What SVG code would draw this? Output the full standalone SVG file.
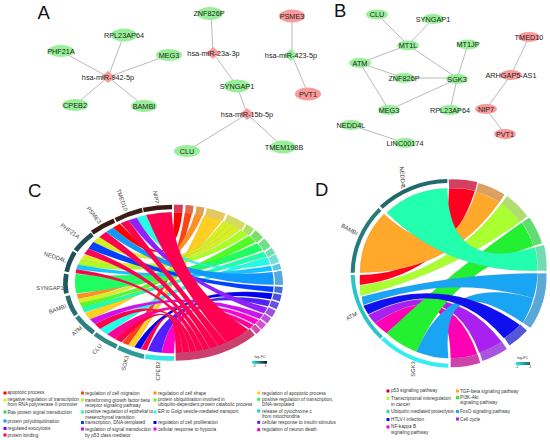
<svg xmlns="http://www.w3.org/2000/svg" width="550" height="440" viewBox="0 0 550 440">
<style>
text{font-family:"Liberation Sans",Arial,sans-serif;dominant-baseline:central;opacity:.99}
.p{font-size:18.5px;fill:#111;dominant-baseline:auto}
.n{font-size:7.3px;fill:#222;text-anchor:middle}
.g{fill:#97f097}.r{fill:#fb9a9a}
.e{stroke:#a8a8a8;stroke-width:.8;fill:none}
.lb{font-size:5.8px;fill:#444;text-anchor:middle}
.l{font-size:4.7px;fill:#333}
.ld{font-size:4.7px;fill:#333}
.t{font-size:3.6px;fill:#333;text-anchor:middle}
.rib path{stroke:#888;stroke-opacity:.55;stroke-width:.8}
.ring path{fill:none;stroke-width:14}
.term path{fill:none;stroke-width:24}
.termd path{fill:none;stroke-width:27}
.ringd path{fill:none;stroke-width:12}
</style>
<defs>
<linearGradient id="gc"><stop offset="0" stop-color="#22eeee"/><stop offset="1" stop-color="#111"/></linearGradient>
<linearGradient id="gd"><stop offset="0" stop-color="#22eeee"/><stop offset="1" stop-color="#1f6a6a"/></linearGradient>
</defs>
<text class="p" x="37.5" y="18.5">A</text>
<text class="p" x="334" y="17">B</text>
<text class="p" x="28" y="196.5">C</text>
<text class="p" x="315" y="196">D</text>

<g id="connectors" class="e">
<path d="M124 35L108 77M61 51L108 77M169 55L108 77M75 105L108 77M144 106L108 77"/>
<path d="M211 13L213 53L237 86L247 114L187 151M247 114L283 147"/>
<path d="M292 16V55L308 94"/>
<path d="M377 14L408 45L433 19M408 45L360 63L404 78H457L408 45M468 44L457 79L450 110M360 63L389 110L457 79"/>
<path d="M529 37L511 75L486 109L505 134M351 125L405 143"/>
</g>

<g id="a-miR942"><path class="r" d="M108 71l7 6-7 6-7-6z"/><text class="n" x="108" y="77">hsa-miR-942-5p</text></g>
<g id="a-RPL23AP64"><ellipse class="g" cx="124" cy="35" rx="13" ry="6.5"/><text class="n" x="124" y="35">RPL23AP64</text></g>
<g id="a-PHF21A"><ellipse class="g" cx="61" cy="51" rx="13" ry="6"/><text class="n" x="61" y="51">PHF21A</text></g>
<g id="a-MEG3"><ellipse class="g" cx="169" cy="55" rx="13" ry="6"/><text class="n" x="169" y="55">MEG3</text></g>
<g id="a-CPEB2"><ellipse class="g" cx="75" cy="105" rx="13" ry="6"/><text class="n" x="75" y="105">CPEB2</text></g>
<g id="a-BAMBI"><ellipse class="g" cx="144" cy="106" rx="13" ry="6"/><text class="n" x="144" y="106">BAMBI</text></g>
<g id="a-ZNF826P"><ellipse class="g" cx="210" cy="13.5" rx="13" ry="6.5"/><text class="n" x="209" y="13.5">ZNF826P</text></g>
<g id="a-miR23a"><path class="r" d="M213 47l7 6-7 6-7-6z"/><text class="n" x="213.5" y="53">hsa-miR-23a-3p</text></g>
<g id="a-SYNGAP1"><ellipse class="g" cx="237" cy="86" rx="13" ry="6.5"/><text class="n" x="237" y="86">SYNGAP1</text></g>
<g id="a-miR15b"><path class="r" d="M247 108l7 6-7 6-7-6z"/><text class="n" x="247" y="114">hsa-miR-15b-5p</text></g>
<g id="a-CLU"><ellipse class="g" cx="187" cy="151" rx="13" ry="6"/><text class="n" x="187" y="151">CLU</text></g>
<g id="a-TMEM198B"><ellipse class="g" cx="283" cy="147" rx="13" ry="6.5"/><text class="n" x="284" y="147">TMEM198B</text></g>
<g id="a-PSME3"><ellipse class="r" cx="292" cy="16" rx="13" ry="6.5"/><text class="n" x="292" y="16">PSME3</text></g>
<g id="a-miR423"><path class="g" d="M291 49l7 6-7 6-7-6z"/><text class="n" x="291" y="55">hsa-miR-423-5p</text></g>
<g id="a-PVT1"><ellipse class="r" cx="308" cy="94" rx="13" ry="6.5"/><text class="n" x="308" y="94">PVT1</text></g>

<g id="b-CLU"><ellipse class="g" cx="377" cy="14.5" rx="11" ry="5"/><text class="n" x="377" y="14.5">CLU</text></g>
<g id="b-SYNGAP1"><ellipse class="g" cx="433" cy="19" rx="11" ry="5"/><text class="n" x="433" y="19">SYNGAP1</text></g>
<g id="b-MT1L"><ellipse class="g" cx="408" cy="45.5" rx="11" ry="5"/><text class="n" x="408" y="45.5">MT1L</text></g>
<g id="b-MT1JP"><ellipse class="g" cx="468" cy="44.5" rx="11" ry="5"/><text class="n" x="468" y="44.5">MT1JP</text></g>
<g id="b-TMED10"><ellipse class="r" cx="529" cy="37" rx="11" ry="5"/><text class="n" x="529" y="37">TMED10</text></g>
<g id="b-ATM"><ellipse class="g" cx="360" cy="63" rx="11" ry="5"/><text class="n" x="360" y="63">ATM</text></g>
<g id="b-ZNF826P"><ellipse class="g" cx="404" cy="78" rx="11" ry="5"/><text class="n" x="404" y="78">ZNF826P</text></g>
<g id="b-SGK3"><ellipse class="g" cx="457" cy="79" rx="11" ry="5"/><text class="n" x="457" y="79">SGK3</text></g>
<g id="b-ARHGAP5-AS1"><ellipse class="r" cx="511" cy="75" rx="11" ry="5"/><text class="n" x="511" y="75">ARHGAP5-AS1</text></g>
<g id="b-MEG3"><ellipse class="g" cx="389" cy="110" rx="11" ry="5"/><text class="n" x="389" y="110">MEG3</text></g>
<g id="b-RPL23AP64"><ellipse class="g" cx="450" cy="110" rx="11" ry="5"/><text class="n" x="450" y="110">RPL23AP64</text></g>
<g id="b-NIP7"><ellipse class="r" cx="486" cy="109" rx="11" ry="5"/><text class="n" x="486" y="109">NIP7</text></g>
<g id="b-PVT1"><ellipse class="r" cx="505" cy="134" rx="11" ry="5"/><text class="n" x="505" y="134">PVT1</text></g>
<g id="b-NEDD4L"><ellipse class="g" cx="351" cy="125" rx="11" ry="5"/><text class="n" x="351" y="125">NEDD4L</text></g>
<g id="b-LINC00174"><ellipse class="g" cx="405" cy="143" rx="11" ry="5"/><text class="n" x="405" y="143">LINC00174</text></g>

<g id="chord-c" transform="translate(0 170) scale(.3333)">
<g class="rib">
<path fill="#ff0000" d="M339 173A298 212 0 0 1 360 161Q525 338 522 127A298 212 0 0 1 547 127.6Q525 338 339 173Z"/>
<path fill="#ff4010" d="M385 525A298 212 0 0 1 367 518Q525 338 554.5 128A298 212 0 0 1 576 130Q525 338 385 525Z"/>
<path fill="#ff9020" d="M234 386A298 212 0 0 1 231 372Q525 338 585 131.5A298 212 0 0 1 607 135Q525 338 234 386Z"/>
<path fill="#ffd020" d="M402 531A298 212 0 0 1 385 526Q525 338 613 136.6A298 212 0 0 1 640 142Q525 338 402 531Z"/>
<path fill="#ffd020" d="M270 448A298 212 0 0 1 255 429Q525 338 640 142A298 212 0 0 1 665 152Q525 338 270 448Z"/>
<path fill="#d8f020" d="M240 400A298 212 0 0 1 234 386Q525 338 670 154A298 212 0 0 1 688 160.5Q525 338 240 400Z"/>
<path fill="#d8f020" d="M280 216A298 212 0 0 1 298 201Q525 338 688 160.5A298 212 0 0 1 704 168Q525 338 280 216Z"/>
<path fill="#d8f020" d="M243 270A298 212 0 0 1 252 255Q525 338 704 168A298 212 0 0 1 720 179Q525 338 243 270Z"/>
<path fill="#a8ff20" d="M234 284A298 212 0 0 1 243 270Q525 338 723.6 181A298 212 0 0 1 743.5 194.5Q525 338 234 284Z"/>
<path fill="#50ff20" d="M246 412A298 212 0 0 1 240 400Q525 338 747 197.4A298 212 0 0 1 767 216Q525 338 246 412Z"/>
<path fill="#20ff60" d="M229 370A298 212 0 0 1 227 312Q525 338 771 220A298 212 0 0 1 788 241Q525 338 229 370Z"/>
<path fill="#20ffa8" d="M254 427A298 212 0 0 1 246 412Q525 338 791 245A298 212 0 0 1 800.5 260Q525 338 254 427Z"/>
<path fill="#20ffe8" d="M322 493A298 212 0 0 1 300 478Q525 338 801.5 262A298 212 0 0 1 807 273Q525 338 322 493Z"/>
<path fill="#20ffe8" d="M410 143A298 212 0 0 1 437 136Q525 338 807 273A298 212 0 0 1 811 283Q525 338 410 143Z"/>
<path fill="#10c8ff" d="M229 298A298 212 0 0 1 234 284Q525 338 812.5 287A298 212 0 0 1 816.6 302Q525 338 229 298Z"/>
<path fill="#1098ff" d="M318 186A298 212 0 0 1 339 173Q525 338 817.6 306A298 212 0 0 1 821 344.6Q525 338 318 186Z"/>
<path fill="#0040ff" d="M265 236A298 212 0 0 1 280 216Q525 338 821 349.4A298 212 0 0 1 818.5 366.5Q525 338 265 236Z"/>
<path fill="#0000ee" d="M422 537A298 212 0 0 1 403 532Q525 338 817.6 370A298 212 0 0 1 813 388Q525 338 422 537Z"/>
<path fill="#5020ff" d="M485 548A298 212 0 0 1 443 542Q525 338 811 392A298 212 0 0 1 804 409Q525 338 485 548Z"/>
<path fill="#9020ff" d="M385 151A298 212 0 0 1 410 143Q525 338 802 413A298 212 0 0 1 792 430Q525 338 385 151Z"/>
<path fill="#d010f0" d="M285 462A298 212 0 0 1 270 448Q525 338 789.7 433A298 212 0 0 1 778.6 447Q525 338 285 462Z"/>
<path fill="#ff00cc" d="M522 550A298 212 0 0 1 485 548Q525 338 776 450A298 212 0 0 1 763.5 463Q525 338 522 550Z"/>
<path fill="#ff0099" d="M345 507A298 212 0 0 1 322 493Q525 338 761 465A298 212 0 0 1 749 476Q525 338 345 507Z"/>
<path fill="#ff0050" d="M438 135A298 212 0 0 1 515 126Q525 338 745 479A298 212 0 0 1 680 519Q525 338 438 135Z"/>
<path fill="#ff0050" d="M362 160A298 212 0 0 1 385 151Q525 338 680 519A298 212 0 0 1 655 529Q525 338 362 160Z"/>
<path fill="#ff0050" d="M298 201A298 212 0 0 1 318 186Q525 338 655 529A298 212 0 0 1 630 537Q525 338 298 201Z"/>
<path fill="#ff0050" d="M253 252A298 212 0 0 1 265 236Q525 338 630 537A298 212 0 0 1 610 541Q525 338 253 252Z"/>
<path fill="#ff0050" d="M227 310A298 212 0 0 1 229 298Q525 338 610 541A298 212 0 0 1 590 545Q525 338 227 310Z"/>
<path fill="#ff0050" d="M300 477A298 212 0 0 1 285 462Q525 338 590 545A298 212 0 0 1 570 547Q525 338 300 477Z"/>
<path fill="#ff0050" d="M365 517A298 212 0 0 1 345 507Q525 338 570 547A298 212 0 0 1 548 549Q525 338 365 517Z"/>
<path fill="#ff0050" d="M440 541A298 212 0 0 1 423 538Q525 338 548 549A298 212 0 0 1 527 549Q525 338 440 541Z"/>
</g>
<g class="term">
<path stroke="#d8385a" d="M522 116A312 222 0 0 1 548 116.6"/>
<path stroke="#e06a50" d="M556 117A312 222 0 0 1 579 119"/>
<path stroke="#e0a050" d="M588 120.6A312 222 0 0 1 611 124.6"/>
<path stroke="#e2c860" d="M618 126A312 222 0 0 1 672 142"/>
<path stroke="#d4dc60" d="M678 144.4A312 222 0 0 1 730 170.6"/>
<path stroke="#a8e060" d="M734 173A312 222 0 0 1 755 187"/>
<path stroke="#78e068" d="M759 190A312 222 0 0 1 780 210"/>
<path stroke="#70e088" d="M784 214A312 222 0 0 1 802 236"/>
<path stroke="#70e0b0" d="M805 240A312 222 0 0 1 815 256"/>
<path stroke="#70e0d8" d="M816 258A312 222 0 0 1 826 280"/>
<path stroke="#58c8e0" d="M827.6 284A312 222 0 0 1 832 300"/>
<path stroke="#58a8e0" d="M833 304A312 222 0 0 1 837 345"/>
<path stroke="#4070d8" d="M836.5 350A312 222 0 0 1 834 368"/>
<path stroke="#5050e0" d="M833 372A312 222 0 0 1 828 391"/>
<path stroke="#6a50e0" d="M826 395A312 222 0 0 1 818.6 413"/>
<path stroke="#9a50e0" d="M816.6 417A312 222 0 0 1 806 435"/>
<path stroke="#b850e0" d="M803.6 438A312 222 0 0 1 792 453"/>
<path stroke="#d850d0" d="M789 456A312 222 0 0 1 776 470"/>
<path stroke="#d84ab0" d="M773.6 472A312 222 0 0 1 761 483"/>
<path stroke="#cc4070" d="M757 486A312 222 0 0 1 527 560"/>
</g>
<g class="ring">
<path stroke="#33e8e8" d="M522 565A323 225 0 0 1 436 560"/>
<path stroke="#2f9a9a" d="M432 560A323 225 0 0 1 355 533"/>
<path stroke="#2f8a8a" d="M350 530A323 225 0 0 1 285 492"/>
<path stroke="#2d8080" d="M281 488A323 225 0 0 1 231 440"/>
<path stroke="#2a6c70" d="M228 435A323 225 0 0 1 203 377"/>
<path stroke="#1f5a60" d="M199 370A323 225 0 0 1 199 312"/>
<path stroke="#1d5258" d="M200 305A323 225 0 0 1 224 247"/>
<path stroke="#1f4f55" d="M227 242A323 225 0 0 1 277 193"/>
<path stroke="#3b1a12" d="M277 188A323 225 0 0 1 343 152"/>
<path stroke="#3b2018" d="M347 150A323 225 0 0 1 427 120"/>
<path stroke="#3a1a12" d="M430 120A323 225 0 0 1 516 111"/>
</g>
</g>
<g id="c-labels">
<text class="lb" transform="translate(156 197) rotate(82)">NIP7</text>
<text class="lb" transform="translate(122 200) rotate(70)">TMED10</text>
<text class="lb" transform="translate(94 215) rotate(52)">PSME3</text>
<text class="lb" transform="translate(70 231) rotate(35)">PHF21A</text>
<text class="lb" transform="translate(55 257) rotate(18)">NEDD4L</text>
<text class="lb" transform="translate(50 288)">SYNGAP1</text>
<text class="lb" transform="translate(57.5 309) rotate(-20)">BAMBI</text>
<text class="lb" transform="translate(77 331) rotate(-40)">ATM</text>
<text class="lb" transform="translate(97 349) rotate(-50)">CLU</text>
<text class="lb" transform="translate(125 363) rotate(-75)">SGK3</text>
<text class="lb" transform="translate(157.5 371) rotate(-90)">CPEB2</text>
</g>
<g id="c-scale">
<text class="t" x="260" y="357">log₂FC</text>
<rect x="252" y="361" width="15" height="2.7" fill="url(#gc)"/>
<text class="t" x="254" y="366">-3</text><text class="t" x="265.5" y="366">1</text>
</g>
<g id="c-legend">
<rect x="3.5" y="391.5" width="3" height="3" fill="#ff0000"/><text class="l" x="7.5" y="392.7">apoptotic process</text>
<rect x="3.5" y="398.5" width="3" height="3" fill="#d8f020"/><text class="l" x="7.5" y="399.7">negative regulation of transcription</text><text class="l" x="7.5" y="404.7">from RNA polymerase II promoter</text>
<rect x="3.5" y="410.5" width="3" height="3" fill="#20e060"/><text class="l" x="7.5" y="412">Ras protein signal transduction</text>
<rect x="3.5" y="419.5" width="3" height="3" fill="#1098ff"/><text class="l" x="7.5" y="421">protein polyubiquitination</text>
<rect x="3.5" y="427" width="3" height="3" fill="#8000ee"/><text class="l" x="7.5" y="428.3">regulated exocytosis</text>
<rect x="3.5" y="433.5" width="3" height="3" fill="#ff0050"/><text class="l" x="7.5" y="435">protein binding</text>
<rect x="81" y="391.5" width="3" height="3" fill="#ff4010"/><text class="l" x="85" y="393.2">regulation of cell migration</text>
<rect x="81" y="398.5" width="3" height="3" fill="#a8ff20"/><text class="l" x="85" y="400">transforming growth factor beta</text><text class="l" x="85" y="405.3">receptor signaling pathway</text>
<rect x="81" y="410.5" width="3" height="3" fill="#20ffa8"/><text class="l" x="85" y="411.7">positive regulation of epithelial to</text><text class="l" x="85" y="417.3">mesenchymal transition</text>
<rect x="81" y="421" width="3" height="3" fill="#0040ff"/><text class="l" x="85" y="422.7">transcription, DNA-templated</text>
<rect x="81" y="427.5" width="3" height="3" fill="#d010f0"/><text class="l" x="85" y="429.3">regulation of signal transduction</text><text class="l" x="85" y="435">by p53 class mediator</text>
<rect x="153.5" y="391.5" width="3" height="3" fill="#ff9020"/><text class="l" x="158" y="393">regulation of cell shape</text>
<rect x="153.5" y="398.5" width="3" height="3" fill="#50ff20"/><text class="l" x="158" y="399.7">protein ubiquitination involved in</text><text class="l" x="158" y="404.7">ubiquitin-dependent protein catabolic process</text>
<rect x="153.5" y="410.5" width="3" height="3" fill="#20ffe8"/><text class="l" x="158" y="411.7">ER to Golgi vesicle-mediated transport</text>
<rect x="153.5" y="421" width="3" height="3" fill="#0000ee"/><text class="l" x="158" y="422.3">regulation of cell proliferation</text>
<rect x="153.5" y="427.5" width="3" height="3" fill="#ff00cc"/><text class="l" x="158" y="429.3">cellular response to hypoxia</text>
<rect x="257.2" y="391.5" width="3" height="3" fill="#ffd020"/><text class="l" x="262" y="393">regulation of apoptotic process</text>
<rect x="257.2" y="397.8" width="3" height="3" fill="#20ff60"/><text class="l" x="262" y="399.3">positive regulation of transcription,</text><text class="l" x="262" y="404.3">DNA-templated</text>
<rect x="257.2" y="409.5" width="3" height="3" fill="#10c8e0"/><text class="l" x="262" y="411.3">release of cytochrome c</text><text class="l" x="262" y="416.7">from mitochondria</text>
<rect x="257.2" y="420.8" width="3" height="3" fill="#5020ff"/><text class="l" x="262" y="422.3">cellular response to insulin stimulus</text>
<rect x="257.2" y="428.2" width="3" height="3" fill="#ff0099"/><text class="l" x="262" y="429.3">regulation of neuron death</text>
</g>

<g id="chord-d" transform="translate(320 170) scale(.3333)">
<g class="rib">
<path fill="#ff0020" d="M120 345A265 255 0 0 1 120 315Q387 310 387 55A265 255 0 0 1 465 62Q387 310 120 345Z"/>
<path fill="#ffa82a" d="M120 308A265 255 0 0 1 192 132Q387 310 468 65A265 255 0 0 1 538 97Q387 310 120 308Z"/>
<path fill="#aaff30" d="M122 377A265 255 0 0 1 120 347Q387 310 545 100A265 255 0 0 1 600 155Q387 310 122 377Z"/>
<path fill="#ff00b4" d="M200 490A265 255 0 0 1 165 460Q387 310 472 553A265 255 0 0 1 392 565Q387 310 200 490Z"/>
<path fill="#aa20f0" d="M165 460A265 255 0 0 1 145 435Q387 310 545 515A265 255 0 0 1 478 548Q387 310 165 460Z"/>
<path fill="#22f030" d="M290 545A265 255 0 0 1 200 490Q387 310 605 158A265 255 0 0 1 640 228Q387 310 290 545Z"/>
<path fill="#22ffae" d="M200 128A265 255 0 0 1 382 55Q387 310 645 232A265 255 0 0 1 652 302Q387 310 200 128Z"/>
<path fill="#1aa4f4" d="M385 565A265 255 0 0 1 290 545Q387 310 640 385A265 255 0 0 1 608 458Q360 290 385 565Z"/>
<path fill="#1aa4f4" d="M130 405A265 255 0 0 1 125 380Q387 310 652 310A265 255 0 0 1 640 385Q387 310 130 405Z"/>
<path fill="#1010ee" d="M145 433A265 255 0 0 1 130 407Q387 310 600 465A265 255 0 0 1 552 505Q387 310 145 433Z"/>
</g>
<g class="termd">
<path stroke="#d64060" d="M387 42A279 268 0 0 1 469 49"/>
<path stroke="#dca060" d="M472 52A279 268 0 0 1 546 85"/>
<path stroke="#b0dc70" d="M553 89A279 268 0 0 1 611 147"/>
<path stroke="#60dc70" d="M617 150A279 268 0 0 1 653 224"/>
<path stroke="#70dcb0" d="M659 228A279 268 0 0 1 666 302"/>
<path stroke="#5aa8d8" d="M666 310A279 268 0 0 1 620 466"/>
<path stroke="#5555d8" d="M611 473A279 268 0 0 1 561 515"/>
<path stroke="#aa55dd" d="M553 526A279 268 0 0 1 483 560"/>
<path stroke="#cc44aa" d="M477 566A279 268 0 0 1 392 578"/>
</g>
<g class="ringd">
<path stroke="#33eef0" d="M385 587A288 277 0 0 1 188 505"/>
<path stroke="#2cc4c8" d="M185 503A288 277 0 0 1 98 315"/>
<path stroke="#267a7a" d="M98 308A288 277 0 0 1 180 118"/>
<path stroke="#1f6a6a" d="M184 112A288 277 0 0 1 382 33"/>
</g>
</g>
<g id="d-labels">
<text class="lb" transform="translate(402.5 178) rotate(85)">NEDD4L</text>
<text class="lb" transform="translate(349.5 229.5) rotate(30)">BAMBI</text>
<text class="lb" transform="translate(351.5 316) rotate(-30)">ATM</text>
<text class="lb" transform="translate(412.7 369) rotate(-90)">SGK3</text>
</g>
<g id="d-scale">
<text class="t" x="522.6" y="358">log₂FC</text>
<rect x="515.7" y="362" width="14.3" height="3" fill="url(#gd)"/>
<text class="t" x="517" y="367">-2</text><text class="t" x="530" y="367">-1</text>
</g>
<g id="d-legend">
<rect x="386.5" y="389.5" width="3" height="3" fill="#e00020"/><text class="ld" x="391" y="390.7">p53 signaling pathway</text>
<rect x="386.5" y="397" width="3" height="3" fill="#aaff30"/><text class="ld" x="391" y="398.3">Transcriptional misregulation</text><text class="ld" x="391" y="404">in cancer</text>
<rect x="386.5" y="410" width="3" height="3" fill="#22e0a0"/><text class="ld" x="391" y="411.7">Ubiquitin mediated proteolysis</text>
<rect x="386.5" y="418" width="3" height="3" fill="#1010ee"/><text class="ld" x="391" y="419.3">HTLV-I infection</text>
<rect x="386.5" y="425.5" width="3" height="3" fill="#ff00b4"/><text class="ld" x="391" y="426.7">NF-kappa B</text><text class="ld" x="391" y="432">signaling pathway</text>
<rect x="456" y="389.5" width="3" height="3" fill="#ffa82a"/><text class="ld" x="460" y="391">TGF-beta signaling pathway</text>
<rect x="456" y="396" width="3" height="3" fill="#22f030"/><text class="ld" x="460" y="397.3">PI3K-Akt</text><text class="ld" x="460" y="402.7">signaling pathway</text>
<rect x="456" y="410" width="3" height="3" fill="#1aa4f4"/><text class="ld" x="460" y="411.7">FoxO signaling pathway</text>
<rect x="456" y="417.5" width="3" height="3" fill="#aa20f0"/><text class="ld" x="460" y="419">Cell cycle</text>
</g>
</svg>
